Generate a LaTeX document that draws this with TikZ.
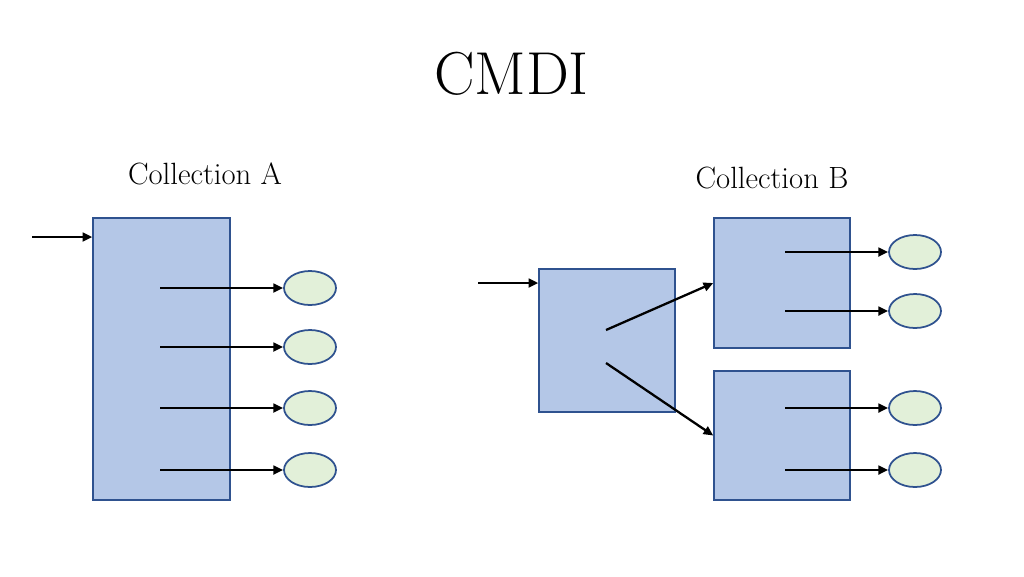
\documentclass[tikz,border=0pt]{standalone}
\usetikzlibrary{arrows.meta,shapes.geometric}
\definecolor{boxfill}{HTML}{B4C7E7}
\definecolor{boxline}{HTML}{2F528F}
\definecolor{ellfill}{HTML}{E2F0D9}
\begin{document}
\begin{tikzpicture}[x=0.02cm,y=-0.02cm,
  blockbox/.style={draw=boxline,fill=boxfill,line width=0.9pt,rectangle,inner sep=0pt,minimum width=#1},
  leaf/.style={draw=boxline,fill=ellfill,line width=1pt,ellipse,inner sep=0pt,minimum width=1.04cm,minimum height=0.68cm},
  arr/.style={draw=black,line width=1.3pt,-{Triangle[length=5.5pt,width=5pt]}},
  caption/.style={anchor=base,font=\fontsize{17.5}{20}\selectfont}]
\useasboundingbox (0,0) rectangle (1024,576);
\node[anchor=base,font=\fontsize{34.5}{38}\selectfont] (title) at (511.5,94) {CMDI};
\node[caption] (labA) at (205,184) {Collection A};
\node[caption] (labB) at (772,188) {Collection B};
% boxes
\node[blockbox=2.74cm,minimum height=5.64cm] (A) at (161.5,359) {};
\node[blockbox=2.72cm,minimum height=2.86cm] (B1) at (607,340.5) {};
\node[blockbox=2.72cm,minimum height=2.6cm] (B2) at (782,283) {};
\node[blockbox=2.72cm,minimum height=2.58cm] (B3) at (782,435.5) {};
% ellipses
\node[leaf] (a1) at (310,288) {};
\node[leaf] (a2) at (310,347) {};
\node[leaf] (a3) at (310,408) {};
\node[leaf] (a4) at (310,470) {};
\node[leaf] (b1) at (915,252) {};
\node[leaf] (b2) at (915,311) {};
\node[leaf] (b3) at (915,408) {};
\node[leaf] (b4) at (915,470) {};
% coordinates
\coordinate (inA) at (32,237);
\coordinate (inB) at (478,283);
\coordinate (sa1) at (160,288);
\coordinate (sa2) at (160,347);
\coordinate (sa3) at (160,408);
\coordinate (sa4) at (160,470);
\coordinate (sb1) at (785,252);
\coordinate (sb2) at (785,311);
\coordinate (sb3) at (785,408);
\coordinate (sb4) at (785,470);
\coordinate (s12) at (606,330);
\coordinate (s13) at (606,363);
% arrows
\draw[arr] (inA) -- (inA -| A.west);
\draw[arr] (inB) -- (inB -| B1.west);
\draw[arr] (sa1) -- (a1.west);
\draw[arr] (sa2) -- (a2.west);
\draw[arr] (sa3) -- (a3.west);
\draw[arr] (sa4) -- (a4.west);
\draw[arr] (sb1) -- (b1.west);
\draw[arr] (sb2) -- (b2.west);
\draw[arr] (sb3) -- (b3.west);
\draw[arr] (sb4) -- (b4.west);
\draw[arr] (s12) -- (B2.west);
\draw[arr] (s13) -- (B3.west);
\end{tikzpicture}
\end{document}
